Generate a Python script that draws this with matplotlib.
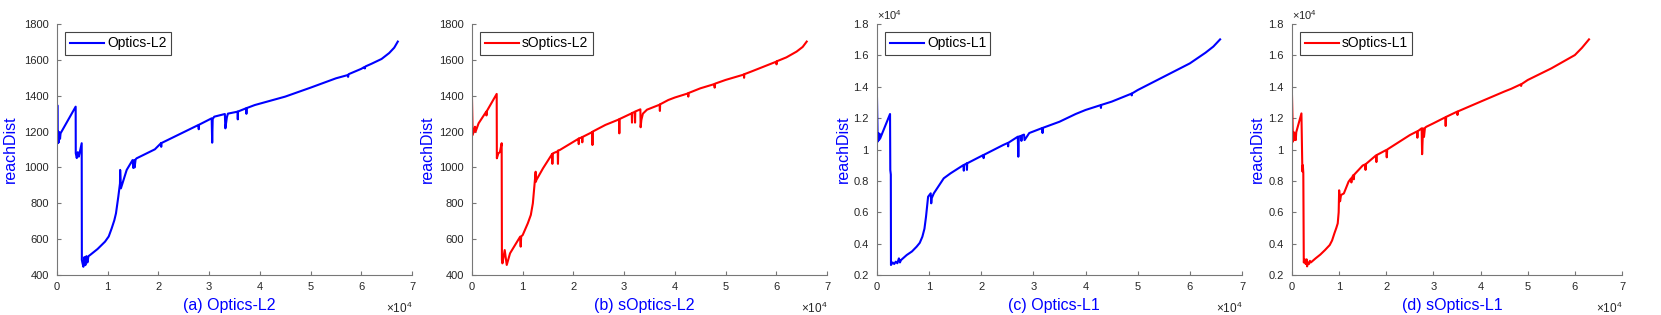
import matplotlib
matplotlib.use('Agg')
from matplotlib import pyplot as plt
from matplotlib.ticker import FuncFormatter
import numpy as np

plt.rcParams['font.family'] = ['Liberation Sans', 'DejaVu Sans']
plt.rcParams['mathtext.fontset'] = 'custom'
plt.rcParams['mathtext.rm'] = 'Liberation Sans'

# (a) Optics-L2
optics_l2_x = [0, 130, 150, 250, 350, 500, 600, 700, 3680, 3700, 3900, 4100, 4300, 4870, 4900, 5000,
               5200, 5400, 5600, 5800, 6000, 6200, 6500, 8000, 9470, 10200, 10780, 11300, 11630, 12090,
               12420, 12450, 12600, 13740, 14900, 15050, 15200, 15300, 15500, 15710, 19300, 20500,
               20550, 20600, 27900, 27950, 28000, 30500, 30600, 30700, 31000, 33100, 33200, 33500,
               33700, 35600, 35650, 35700, 37300, 37350, 37400, 39000, 45000, 50000, 55000, 57300,
               57400, 57500, 60000, 60600, 60700, 60800, 62000, 64000, 65500, 66500, 67200]
optics_l2_y = [1345, 1345, 1135, 1200, 1140, 1195, 1160, 1190, 1339, 1079, 1052, 1085, 1060, 1135, 484, 470,
               446, 500, 455, 505, 470, 505, 511, 545, 586, 615, 660, 705, 744, 837,
               911, 986, 883, 986, 1041, 997, 1040, 1000, 1045, 1051, 1101, 1135,
               1115, 1136, 1237, 1213, 1238, 1274, 1138, 1270, 1283, 1298, 1218, 1280,
               1300, 1311, 1268, 1312, 1330, 1299, 1331, 1348, 1395, 1445, 1497, 1515,
               1505, 1520, 1550, 1560, 1552, 1563, 1578, 1605, 1638, 1668, 1702]

# (b) sOptics-L2
soptics_l2_x = [0, 130, 600, 700, 1300, 2800, 2850, 2900, 4870, 4900, 5200, 5500, 5850, 5900, 6000, 6450,
                6850, 7500, 9500, 9600, 9700, 10000, 11000, 11600, 12000, 12550, 12600, 12700, 14000,
                15800, 15850, 15900, 16000, 16900, 16950, 17000, 17300, 21000, 21050, 21100, 21700,
                21750, 21800, 23700, 23750, 23800, 26300, 29000, 29050, 29100, 31500, 31550, 31600,
                32100, 32150, 32200, 33200, 33250, 33400, 33700, 34500, 37000, 37050, 37100, 38700,
                40000, 42600, 42650, 42700, 45000, 47800, 47850, 47900, 50000, 53600, 53650, 53700,
                55000, 60000, 60050, 60100, 62000, 64000, 65200, 66000]
soptics_l2_y = [1380, 1181, 1227, 1199, 1246, 1311, 1290, 1313, 1410, 1051, 1079, 1085, 1135, 484, 465, 539,
                456, 521, 614, 558, 615, 623, 688, 735, 800, 976, 920, 930, 995,
                1075, 1020, 1077, 1079, 1090, 1020, 1095, 1097, 1160, 1130, 1162, 1168,
                1140, 1170, 1197, 1125, 1200, 1237, 1268, 1190, 1270, 1302, 1250, 1304,
                1310, 1250, 1312, 1324, 1224, 1265, 1300, 1322, 1350, 1315, 1352, 1376,
                1390, 1413, 1395, 1415, 1441, 1465, 1445, 1467, 1488, 1518, 1500, 1520,
                1534, 1590, 1575, 1592, 1614, 1646, 1672, 1702]

# (c) Optics-L1
optics_l1_x = [0, 130, 300, 400, 500, 600, 2500, 2550, 2650, 2680, 3000, 3300, 3600, 3900, 4200, 4400,
               4600, 5700, 6700, 7600, 8200, 8700, 9100, 9400, 9800, 10300, 10400, 10500, 10900, 12800,
               14100, 16600, 16650, 16700, 17200, 17250, 17300, 20400, 20450, 20500, 24200, 25100,
               25150, 25200, 27000, 27100, 27200, 27600, 27700, 27800, 28200, 28300, 29200, 31700,
               31750, 31800, 35000, 38100, 40000, 42900, 42950, 43000, 45000, 48800, 48850, 48900,
               50000, 55000, 60000, 63000, 64500, 65800]
optics_l1_y = [13263, 10500, 11030, 10600, 11000, 10700, 12263, 8690, 8400, 2636, 2800, 2700, 2850, 2750, 3060, 2800,
               2950, 3274, 3500, 3805, 4050, 4440, 4950, 5716, 6990, 7207, 6570, 6900, 7207, 8163,
               8480, 9011, 8650, 9020, 9110, 8700, 9120, 9650, 9450, 9660, 10286, 10420,
               10200, 10430, 10816, 9540, 10820, 10870, 10550, 10900, 10950, 10600, 11050, 11370,
               11050, 11380, 11770, 12263, 12520, 12830, 12650, 12840, 13050, 13560, 13450, 13570,
               13790, 14640, 15490, 16170, 16560, 17020]

# (d) sOptics-L1
soptics_l1_x = [0, 100, 200, 400, 500, 700, 800, 900, 2000, 2200, 2300, 2400, 2500, 2700, 2900, 3100,
                3200, 3400, 3600, 3800, 4000, 5000, 6000, 7000, 8000, 8500, 9000, 9400, 9700, 9900,
                10000, 10200, 10400, 11000, 12000, 12500, 12600, 12700, 13000, 13100, 13200, 15000,
                15500, 15600, 15700, 17800, 17900, 18000, 20000, 20100, 20200, 25000, 26500, 26600,
                26700, 27500, 27600, 27800, 28000, 28200, 28500, 30000, 32500, 32600, 32700, 35000,
                35100, 35200, 40000, 45000, 46500, 48500, 48600, 48700, 50000, 55000, 60000, 61500,
                63000]
soptics_l1_y = [13400, 12000, 10500, 11100, 10600, 11000, 10600, 11100, 12300, 8600, 9000, 8500, 2800, 3000, 2700, 3000,
                2550, 2800, 2700, 2900, 2800, 3060, 3300, 3590, 3910, 4200, 4660, 5000, 5290, 6000,
                7400, 6700, 7100, 7200, 7950, 8150, 7900, 8200, 8370, 8100, 8400, 8980,
                9050, 8700, 9080, 9620, 9200, 9650, 9970, 9500, 10000, 10920, 11150, 10750,
                11170, 11350, 9700, 11350, 10800, 11380, 11450, 11670, 12050, 11500, 12080, 12410,
                12200, 12430, 13050, 13690, 13870, 14150, 14050, 14170, 14430, 15170, 16020, 16480,
                17020]

panels = [
    (optics_l2_x, optics_l2_y, 'Optics-L2', '(a) Optics-L2', 'blue', False, [57, 412], -0.13),
    (soptics_l2_x, soptics_l2_y, 'sOptics-L2', '(b) sOptics-L2', 'red', False, [472, 827], -0.127),
    (optics_l1_x, optics_l1_y, 'Optics-L1', '(c) Optics-L1', 'blue', True, [877, 1242], -0.093),
    (soptics_l1_x, soptics_l1_y, 'sOptics-L1', '(d) sOptics-L1', 'red', True, [1292, 1622], -0.106),
]

W, H = 1661, 315
fig = plt.figure(figsize=(W / 100, H / 100), dpi=100)
tick_col = '#262626'

for xs, ys, name, caption, col, sci_y, (x0, x1), ylab_x in panels:
    ax = fig.add_axes([x0 / W, 1 - 275 / H, (x1 - x0) / W, 251 / H])
    ax.plot(xs, ys, color=col, lw=1.5, label=name)

    ax.set_xlim(0, 70000)
    ax.set_xticks(np.arange(0, 70001, 10000))
    ax.xaxis.set_major_formatter(FuncFormatter(lambda v, p: '%g' % (v / 1e4)))
    if sci_y:
        ax.set_ylim(2000, 18000)
        ax.set_yticks(np.arange(2000, 18001, 2000))
        ax.yaxis.set_major_formatter(FuncFormatter(lambda v, p: '%g' % (v / 1e4)))
        ax.text(0.0, 1.035, '×10$^{4}$', transform=ax.transAxes, ha='left', va='center',
                fontsize=8, color=tick_col)
    else:
        ax.set_ylim(400, 1800)
        ax.set_yticks(np.arange(400, 1801, 200))
    ax.text(1.0, -0.135, '×10$^{4}$', transform=ax.transAxes, ha='right', va='center',
            fontsize=8.5, color=tick_col)

    for s in ['top', 'right']:
        ax.spines[s].set_visible(False)
    for s in ['left', 'bottom']:
        ax.spines[s].set_color('#777777')
        ax.spines[s].set_linewidth(0.8)
    ax.tick_params(direction='in', length=3, width=0.8, color='#777777',
                   labelsize=8, labelcolor=tick_col)
    ax.tick_params(axis='y', pad=6)
    ax.tick_params(axis='x', pad=5)

    ax.set_ylabel('reachDist', color='blue', fontsize=11.5, va='center')
    ax.set_xlabel(caption, color='blue', fontsize=11.5, va='center')
    ax.yaxis.set_label_coords(ylab_x, 0.5)
    ax.xaxis.set_label_coords(0.485, -0.12)

    leg = ax.legend(loc='upper left', fontsize=10, fancybox=False, framealpha=1,
                    edgecolor='#444444', handlelength=2.5, borderaxespad=0.6,
                    borderpad=0.3, handletextpad=0.2)
    leg.get_frame().set_linewidth(0.8)

fig.savefig('out.png', dpi=100)
